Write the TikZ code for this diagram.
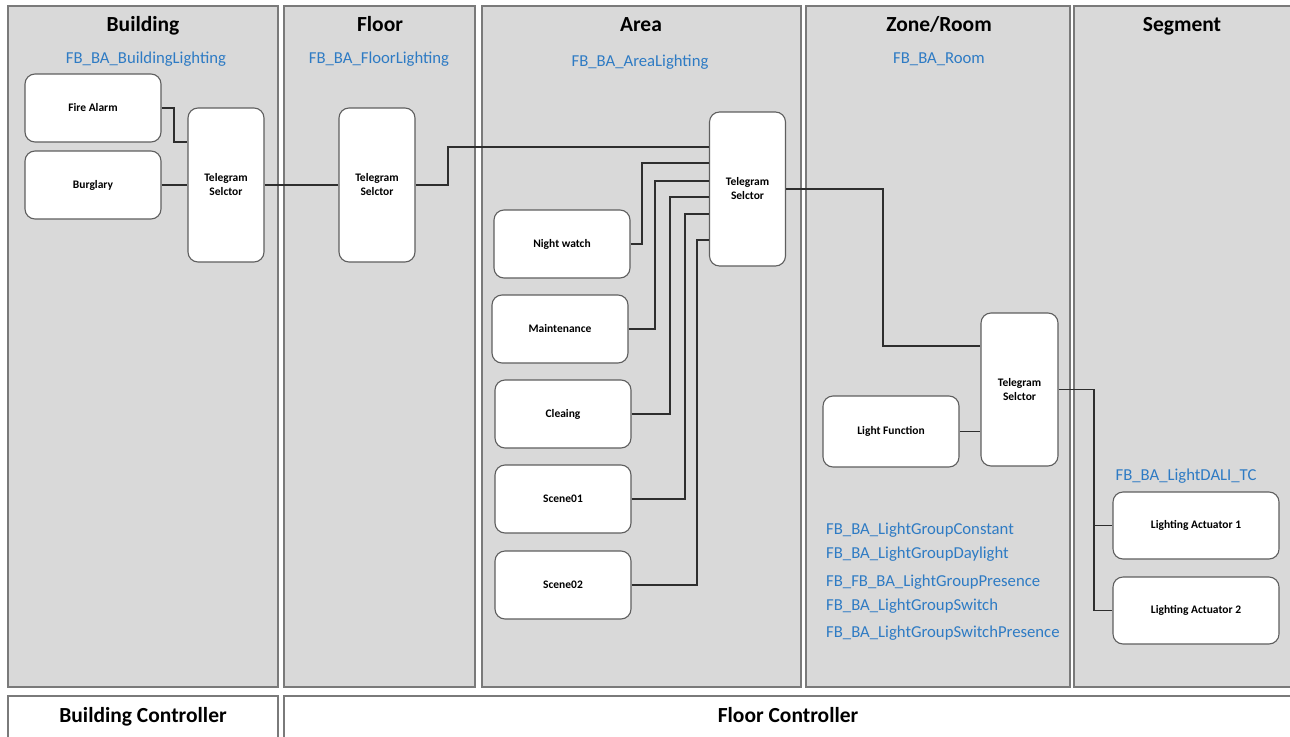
\documentclass[tikz,border=0pt]{standalone}
\usepackage{fontspec}
\setmainfont{Carlito}
\usetikzlibrary{calc}
\definecolor{panelfill}{HTML}{D9D9D9}
\definecolor{panelline}{HTML}{7A7A7A}
\definecolor{nodeline}{HTML}{5F5F5F}
\definecolor{connline}{HTML}{2E2E2E}
\definecolor{fbblue}{HTML}{2E7BC4}
\tikzset{
  panel/.style={fill=panelfill,draw=panelline,line width=1.3pt},
  ctrlbox/.style={fill=white,draw=panelline,line width=1.3pt},
  title/.style={inner sep=0pt,anchor=base,font=\fontsize{21.5}{24}\selectfont\bfseries},
  fblabel/.style={inner sep=0pt,anchor=base,text=fbblue,font=\fontsize{16.7}{19}\selectfont},
  fbnode/.style={draw=nodeline,fill=white,line width=1.1pt,rounded corners=10pt,
    inner sep=0pt,align=center,font=\fontsize{11.5}{14}\selectfont\bfseries},
  conn/.style={draw=connline,line width=1.1pt}
}
\begin{document}
\begin{tikzpicture}[x=1pt,y=-1pt]
\useasboundingbox (0,0) rectangle (1290,736);
\clip (0,0) rectangle (1290,736);
% panels
\path[panel] (8,6) rectangle (278,687);
\path[panel] (284,6) rectangle (475,687);
\path[panel] (482,6) rectangle (801,687);
\path[panel] (806,6) rectangle (1070,687);
\path[panel] (1074,6) rectangle (1300,687);
\path[ctrlbox] (8,696) rectangle (278,750);
\path[ctrlbox] (284,696) rectangle (1300,750);
% titles
\node[title] (tB) at (143,31) {Building};
\node[title] (tF) at (380,31) {Floor};
\node[title] (tA) at (641,31) {Area};
\node[title] (tZ) at (939,31) {Zone/Room};
\node[title] (tS) at (1182,31) {Segment};
\node[title] (tBC) at (143,722) {Building Controller};
\node[title] (tFC) at (788,722) {Floor Controller};
% blue labels
\node[fblabel] (lB) at (146,63) {FB\_BA\_BuildingLighting};
\node[fblabel] (lF) at (379,63) {FB\_BA\_FloorLighting};
\node[fblabel] (lA) at (640,66) {FB\_BA\_AreaLighting};
\node[fblabel] (lZ) at (939,63) {FB\_BA\_Room};
\node[fblabel] (lS) at (1186,480) {FB\_BA\_LightDALI\_TC};
\node[fblabel,anchor=base west] (g1) at (826,534.5) {FB\_BA\_LightGroupConstant};
\node[fblabel,anchor=base west] (g2) at (826,558.5) {FB\_BA\_LightGroupDaylight};
\node[fblabel,anchor=base west] (g3) at (826,586) {FB\_FB\_BA\_LightGroupPresence};
\node[fblabel,anchor=base west] (g4) at (826,610) {FB\_BA\_LightGroupSwitch};
\node[fblabel,anchor=base west] (g5) at (826,637.5) {FB\_BA\_LightGroupSwitchPresence};
% nodes
\node[fbnode,minimum width=136pt,minimum height=68pt] (fa) at (93,108) {Fire Alarm};
\node[fbnode,minimum width=136pt,minimum height=68pt] (bu) at (93,185) {Burglary};
\node[fbnode,minimum width=76pt,minimum height=154pt] (ts1) at (226,185) {Telegram\\Selctor};
\node[fbnode,minimum width=76pt,minimum height=154pt] (ts2) at (377,185) {Telegram\\Selctor};
\node[fbnode,minimum width=76pt,minimum height=154pt] (ts3) at (747.5,189) {Telegram\\Selctor};
\node[fbnode,minimum width=136pt,minimum height=68pt] (nw) at (562,244) {Night watch};
\node[fbnode,minimum width=136pt,minimum height=68pt] (mt) at (560,329) {Maintenance};
\node[fbnode,minimum width=136pt,minimum height=68pt] (cl) at (563,414) {Cleaing};
\node[fbnode,minimum width=136pt,minimum height=68pt] (s1) at (563,499) {Scene01};
\node[fbnode,minimum width=136pt,minimum height=68pt] (s2) at (563,585) {Scene02};
\node[fbnode,minimum width=77pt,minimum height=153pt] (ts4) at (1019.5,389.5) {Telegram\\Selctor};
\node[fbnode,minimum width=136pt,minimum height=71pt] (lf) at (891,431.5) {Light Function};
\node[fbnode,minimum width=166pt,minimum height=67pt] (la1) at (1196,525.5) {Lighting Actuator 1};
\node[fbnode,minimum width=166pt,minimum height=67pt] (la2) at (1196,610.5) {Lighting Actuator 2};
% connectors
\draw[conn] (fa.east) -| (174,142) -- (ts1.west |- 0,142);
\draw[conn] (bu.east) -- (ts1.west);
\draw[conn] (ts1.east) -- (ts2.west);
\draw[conn] (ts2.east) -| (448,147) -- (ts3.west |- 0,147);
\draw[conn] (nw.east) -| (642,163) -- (ts3.west |- 0,163);
\draw[conn] (mt.east) -| (655,181) -- (ts3.west |- 0,181);
\draw[conn] (cl.east) -| (670,197) -- (ts3.west |- 0,197);
\draw[conn] (s1.east) -| (685,214) -- (ts3.west |- 0,214);
\draw[conn] (s2.east) -| (697,240) -- (ts3.west |- 0,240);
\draw[conn] (ts3.east) -| (883,346) -- (ts4.west |- 0,346);
\draw[conn] (lf.east) -- (ts4.west |- lf.east);
\draw[conn] (ts4.east) -| (1094,0 |- la2.west) -- (la2.west);
\draw[conn] (1094,0 |- la1.west) -- (la1.west);
\end{tikzpicture}
\end{document}
